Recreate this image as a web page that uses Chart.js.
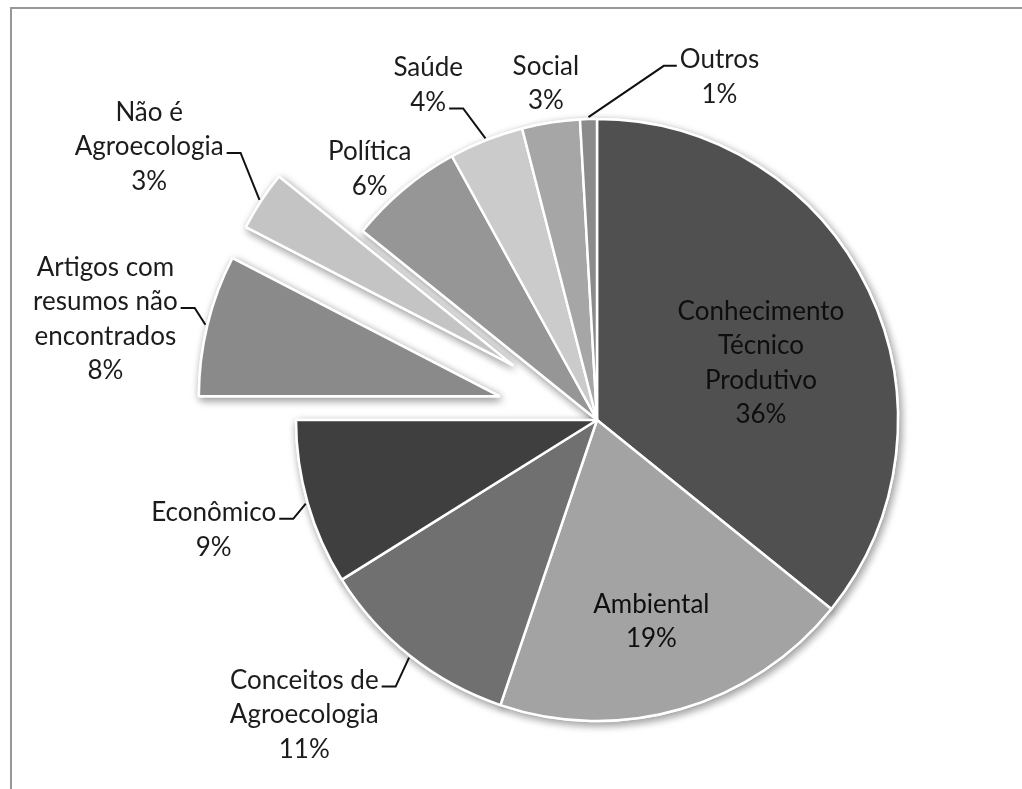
<!DOCTYPE html>
<html lang="pt-BR">
<head>
<meta charset="utf-8">
<title>Temas dos artigos</title>
<script src="https://cdn.jsdelivr.net/npm/chart.js@4.4.1/dist/chart.umd.min.js"></script>
<style>
    html, body { margin: 0; padding: 0; background: #fff; }
    .chart-wrap { position: relative; width: 1022px; height: 789px; overflow: hidden; }
    .frame { position: absolute; left: 10px; top: 7px; right: -4px; bottom: -4px; border-top: 2px solid #979797; border-left: 2px solid #979797; }
    #temasChart { position: absolute; left: 0; top: 0; }
</style>
</head>
<body>
<div class="chart-wrap">
    <div class="frame"></div>
    <canvas id="temasChart"></canvas>
</div>
<script>
// categories, clockwise from 12 o'clock (each entry = lines of the label)
const categories = [
    ['Conhecimento', 'Técnico', 'Produtivo'],
    ['Ambiental'],
    ['Conceitos de', 'Agroecologia'],
    ['Econômico'],
    ['Artigos com', 'resumos não', 'encontrados'],
    ['Não é', 'Agroecologia'],
    ['Política'],
    ['Saúde'],
    ['Social'],
    ['Outros']
];
const shares = [35.8, 19.4, 10.9, 8.9, 7.6, 3.2, 6.2, 4.0, 3.1, 0.9];
const sliceColors = ['#505050', '#a3a3a3', '#707070', '#3f3f3f', '#8a8a8a', '#c4c4c4', '#969696', '#cbcbcb', '#a6a6a6', '#8b8b8b'];
const explodedSlices = [4, 5];

const EXPLODE = 100;
const LINE_H = 34.5;
const LABEL_FONT = '26px Lato, "Open Sans", sans-serif';

// label placement: inside ones measured from 60% of the radius, outside ones from the arc's outer midpoint
// leader = index of the line the leader line is hooked to
const labelLayout = [
    { inside: true, dx: 1, dy: 21 },
    { inside: true, dx: 4, dy: 28 },
    { dx: -106, dy: 59, leader: 0, side: 'right' },
    { dx: -94, dy: 27, leader: 0, side: 'right' },
    { dx: -102, dy: -6, leader: 1, side: 'right' },
    { dx: -112, dy: -54, leader: 1, side: 'right' },
    { dx: -34, dy: -20 },
    { dx: -58, dy: -55, leader: 1, side: 'right' },
    { dx: -5, dy: -39 },
    { dx: 131, dy: -42, leader: 0, side: 'left' }
];

function pctText(i) {
    const total = shares.reduce((a, b) => a + b, 0);
    return Math.round(shares[i] / total * 100) + '%';
}

const explodePlugin = {
    id: 'explode',
    afterUpdate(chart) {
        const arcs = chart.getDatasetMeta(0).data;
        explodedSlices.forEach(i => {
            const arc = arcs[i];
            const mid = (arc.startAngle + arc.endAngle) / 2;
            arc.x += Math.cos(mid) * EXPLODE;
            arc.y += Math.sin(mid) * EXPLODE;
        });
    }
};

const shadowPlugin = {
    id: 'pieShadow',
    beforeDatasetsDraw(chart) {
        const ctx = chart.ctx;
        ctx.save();
        ctx.shadowColor = 'rgba(0, 0, 0, 0.4)';
        ctx.shadowBlur = 9;
        ctx.shadowOffsetX = 2;
        ctx.shadowOffsetY = 3;
        chart.getDatasetMeta(0).data.forEach(arc => arc.draw(ctx));
        ctx.restore();
    }
};

const labelPlugin = {
    id: 'sliceLabels',
    afterDatasetsDraw(chart) {
        const ctx = chart.ctx;
        const arcs = chart.getDatasetMeta(0).data;
        ctx.save();
        ctx.font = LABEL_FONT;
        ctx.fillStyle = '#1c1c1c';
        ctx.textAlign = 'center';
        ctx.textBaseline = 'middle';
        ctx.strokeStyle = '#111';
        ctx.lineWidth = 2;

        arcs.forEach((arc, i) => {
            const lay = labelLayout[i];
            const mid = (arc.startAngle + arc.endAngle) / 2;
            const r = lay.inside ? arc.outerRadius * 0.6 : arc.outerRadius;
            const ax = arc.x + Math.cos(mid) * r;
            const ay = arc.y + Math.sin(mid) * r;
            const lines = categories[i].concat([pctText(i)]);
            const cx = ax + lay.dx;
            const cy = ay + lay.dy;
            const top = cy - (lines.length - 1) / 2 * LINE_H;

            ctx.fillStyle = lay.inside ? '#0e0e0e' : '#1c1c1c';
            lines.forEach((t, k) => ctx.fillText(t, cx, top + k * LINE_H));

            if (lay.leader !== undefined) {
                const w = ctx.measureText(lines[lay.leader]).width;
                const ly = top + lay.leader * LINE_H + 6;
                const sx = lay.side === 'left' ? cx - w / 2 - 3 : cx + w / 2 + 3;
                const kx = lay.side === 'left' ? sx - 13 : sx + 14;
                const ex = arc.x + Math.cos(mid) * (arc.outerRadius + 2);
                const ey = arc.y + Math.sin(mid) * (arc.outerRadius + 2);
                ctx.beginPath();
                ctx.moveTo(sx, ly);
                ctx.lineTo(kx, ly);
                ctx.lineTo(ex, ey);
                ctx.stroke();
            }
        });
        ctx.restore();
    }
};

new Chart(document.getElementById('temasChart'), {
    type: 'pie',
    data: {
        labels: categories.map(c => c.join(' ')),
        datasets: [{
            data: shares,
            backgroundColor: sliceColors,
            borderColor: '#ffffff',
            borderWidth: 2.5,
            radius: 301
        }]
    },
    options: {
        responsive: true,
        maintainAspectRatio: false,
        animation: false,
        events: [],
        layout: { padding: { left: 172, right: 0, top: 51, bottom: 0 } },
        plugins: {
            legend: { display: false },
            tooltip: { enabled: false }
        }
    },
    plugins: [explodePlugin, shadowPlugin, labelPlugin]
});
</script>
</body>
</html>
